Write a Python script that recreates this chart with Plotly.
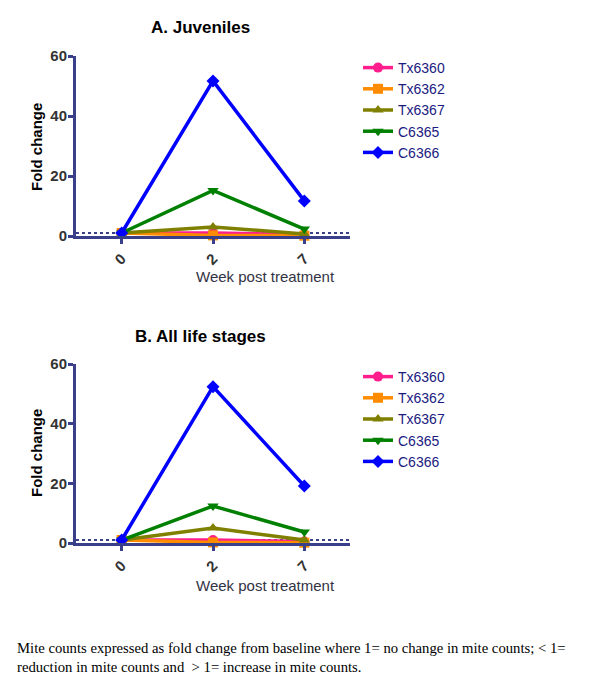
import plotly.graph_objects as go

weeks = ["0", "2", "7"]
series_names = ["Tx6360", "Tx6362", "Tx6367", "C6365", "C6366"]
juv_tx6360 = [1.0, 1.0, 0.5]
juv_tx6362 = [1.0, 0.2, 0.1]
juv_tx6367 = [1.0, 3.0, 0.7]
juv_c6365 = [1.0, 15.2, 2.3]
juv_c6366 = [1.0, 51.7, 11.7]
all_tx6360 = [1.0, 1.0, 0.5]
all_tx6362 = [1.0, 0.2, 0.1]
all_tx6367 = [1.0, 5.0, 1.0]
all_c6365 = [1.0, 12.4, 3.7]
all_c6366 = [1.0, 52.4, 19.1]
y_ticks = [0, 20, 40, 60]
baseline = 1

colors = ["#FF1E8C", "#FF8C00", "#808000", "#008000", "#0000FF"]
symbols = ["circle", "square", "triangle-up", "triangle-down", "diamond"]
axis_color = "#3A3F8A"

fig = go.Figure()
panels = [
    ([juv_tx6360, juv_tx6362, juv_tx6367, juv_c6365, juv_c6366], "x", "y", "legend"),
    ([all_tx6360, all_tx6362, all_tx6367, all_c6365, all_c6366], "x2", "y2", "legend2"),
]
for data, xa, ya, lg in panels:
    # baseline dotted line
    fig.add_trace(go.Scatter(x=[-0.5, 2.5], y=[baseline, baseline], mode="lines",
                             line=dict(color=axis_color, width=2, dash="dot"),
                             xaxis=xa, yaxis=ya, showlegend=False, hoverinfo="skip"))
    for name, vals, c, s in zip(series_names, data, colors, symbols):
        fig.add_trace(go.Scatter(x=[0, 1, 2], y=vals, name=name, mode="lines+markers",
                                 line=dict(color=c, width=3.5),
                                 marker=dict(symbol=s, size=10, color=c),
                                 xaxis=xa, yaxis=ya, legend=lg, cliponaxis=False))

xcommon = dict(range=[-0.5, 2.5], tickmode="array", tickvals=[0, 1, 2], ticktext=weeks,
               tickangle=-45, showline=True, linecolor=axis_color, linewidth=3,
               ticks="outside", tickcolor=axis_color, tickwidth=3, ticklen=5,
               showgrid=False, zeroline=False, automargin=False,
               tickfont=dict(family="Arial", size=15, color="#333333", weight="bold"))
ycommon = dict(range=[0, 60], tickvals=y_ticks, showline=True, linecolor=axis_color, linewidth=3,
               ticks="outside", tickcolor=axis_color, tickwidth=3, ticklen=5,
               showgrid=False, zeroline=False, automargin=False, ticklabelstandoff=-2,
               tickfont=dict(family="Arial", size=15, color="#333333", weight="bold"))

fig.update_layout(
    width=600, height=682, margin=dict(l=0, r=0, t=0, b=0),
    paper_bgcolor="white", plot_bgcolor="white",
    xaxis=dict(domain=[76/600, 350/600], anchor="y", **xcommon),
    yaxis=dict(domain=[(682-236)/682, (682-56)/682], anchor="x", **ycommon),
    xaxis2=dict(domain=[76/600, 350/600], anchor="y2", **xcommon),
    yaxis2=dict(domain=[(682-543)/682, (682-364)/682], anchor="x2", **ycommon),
    legend=dict(x=358/600, y=1-52/682, xanchor="left", yanchor="top", tracegroupgap=0,
                font=dict(family="Arial", size=14, color="#1A1A80"), itemwidth=30,
                bgcolor="rgba(0,0,0,0)"),
    legend2=dict(x=358/600, y=1-361/682, xanchor="left", yanchor="top", tracegroupgap=0,
                 font=dict(family="Arial", size=14, color="#1A1A80"), itemwidth=30,
                 bgcolor="rgba(0,0,0,0)"),
    showlegend=True,
)

annots = [
    dict(text="<b>A. Juveniles</b>", x=200/600, y=1-28/682, size=17, col="black", ang=0),
    dict(text="<b>B. All life stages</b>", x=200/600, y=1-336/682, size=17, col="black", ang=0),
    dict(text="Week post treatment", x=265/600, y=1-276/682, size=15, col="#333344", ang=0),
    dict(text="Week post treatment", x=265/600, y=1-585/682, size=15, col="#333344", ang=0),
    dict(text="<b>Fold change</b>", x=36/600, y=1-147/682, size=15, col="black", ang=-90),
    dict(text="<b>Fold change</b>", x=36/600, y=1-453/682, size=15, col="black", ang=-90),
]
for a in annots:
    fig.add_annotation(text=a["text"], x=a["x"], y=a["y"], xref="paper", yref="paper",
                       xanchor="center", yanchor="middle", showarrow=False, textangle=a["ang"],
                       font=dict(family="Arial", size=a["size"], color=a["col"]))

fig.add_annotation(text="Mite counts expressed as fold change from baseline where 1= no change in mite counts; < 1=<br>reduction in mite counts and  > 1= increase in mite counts.",
                   x=15/600, y=1-657/682, xref="paper", yref="paper", xanchor="left", yanchor="middle",
                   align="left", showarrow=False,
                   font=dict(family="Liberation Serif", size=14.7, color="black"))

fig.write_html("out.html", config={"displayModeBar": False},
               post_script="document.body.style.margin='0';document.body.style.padding='0';")
